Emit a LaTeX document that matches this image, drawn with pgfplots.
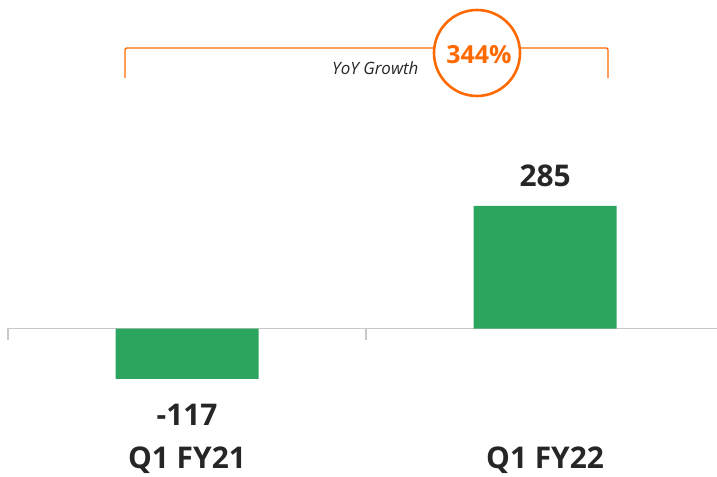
\documentclass[border=0pt]{standalone}
\usepackage{pgfplots}
\pgfplotsset{compat=1.18}
\usepackage{fontspec}
\setmainfont{Open Sans}
\definecolor{barg}{RGB}{44,165,94}
\definecolor{orng}{RGB}{255,106,0}
\definecolor{txt}{RGB}{38,38,38}
\definecolor{axg}{RGB}{200,200,200}
\begin{document}
\begin{tikzpicture}[x=1bp,y=1bp]
\useasboundingbox (0,0) rectangle (717,477);
\draw[axg, line width=1.5bp] (8,148.5) -- (717,148.5);
\draw[axg, line width=1.5bp] (8,149) -- (8,137);
\draw[axg, line width=1.5bp] (366,149) -- (366,137);
\begin{axis}[
  at={(8bp,0bp)}, anchor=south west,
  width=709bp, height=477bp, scale only axis,
  xmin=-0.5, xmax=1.48, ymin=-345.3, ymax=764.0,
  hide axis, clip=false,
  ybar, bar width=143bp, bar shift=0pt,
]
\addplot[fill=barg, draw=none] coordinates {(0,-117) (1,285)};
\node[anchor=base, font=\bfseries\fontsize{30}{34}\selectfont, text=txt] at (axis cs:0,-117) [yshift=-47bp] {-117};
\node[anchor=base, font=\bfseries\fontsize{30}{34}\selectfont, text=txt] at (axis cs:1,285) [yshift=19bp] {285};
\node[anchor=base, font=\bfseries\fontsize{30}{34}\selectfont, text=txt] at (axis cs:0,0) [yshift=-140bp] {Q1 FY21};
\node[anchor=base, font=\bfseries\fontsize{30}{34}\selectfont, text=txt] at (axis cs:1,0) [yshift=-140bp] {Q1 FY22};
\end{axis}
\draw[orng, line width=1.4bp, rounded corners=2bp] (125,399) -- (125,429) -- (608,429) -- (608,399);
\draw[orng, line width=2.6bp, fill=white] (477,424) circle (43);
\node[anchor=base, text=orng, font=\bfseries\fontsize{25}{29}\selectfont] at (479,413) {344\%};
\node[anchor=base east, text=txt, font=\itshape\fontsize{17}{20}\selectfont] at (422,402) {YoY Growth};
\end{tikzpicture}
\end{document}
